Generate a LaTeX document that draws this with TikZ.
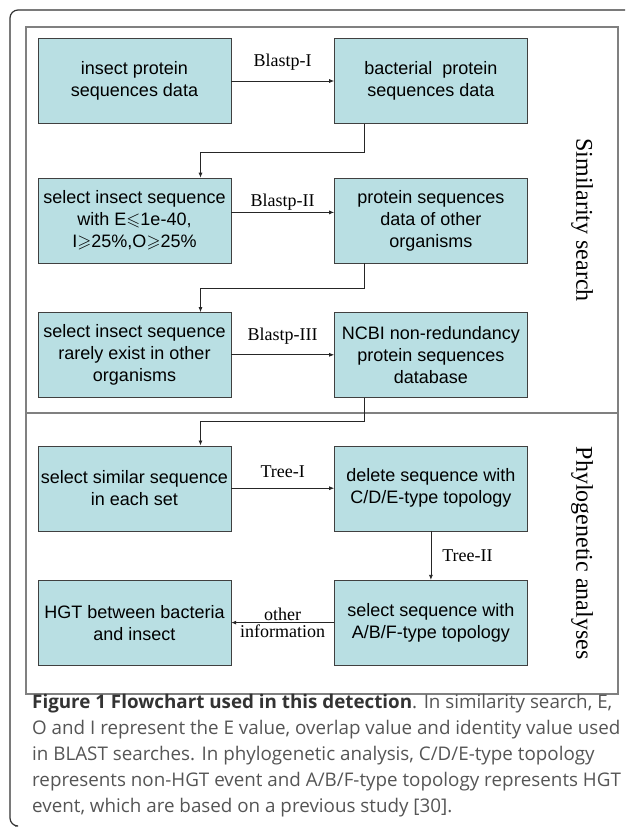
\documentclass[tikz,border=0pt]{standalone}
\usepackage{amssymb}
\usepackage{fontspec}
\setmainfont{Liberation Serif}
\setsansfont{Liberation Sans}
\newfontfamily\capfont{Open Sans}
\usetikzlibrary{positioning,arrows.meta}
\definecolor{boxfill}{RGB}{185,223,227}
\definecolor{capgray}{RGB}{85,85,85}

\begin{document}
\begin{tikzpicture}[x=1pt,y=-1pt,
  stage/.style={rectangle,draw=black!75,fill=boxfill,minimum width=193pt,minimum height=85pt,
    align=center,inner sep=2pt,font=\sffamily\fontsize{18}{22}\selectfont},
  flow/.style={draw=black!85,line width=0.8pt,-{Latex[length=5pt,width=4pt]}},
  lbl/.style={font=\fontsize{18}{20}\selectfont,inner sep=1pt},
  phase/.style={font=\fontsize{24}{26}\selectfont,rotate=-90}]
\useasboundingbox (0,0) rectangle (625,827);
% frames
\draw[black!80,line width=1.2pt,rounded corners=8pt] (625,10) -- (10,10) -- (10,826) -- (15,826);
\draw[black!50,line width=1.3pt] (26,27) rectangle (618,694);
\draw[black!50,line width=1.3pt] (26,413) -- (618,413);
% similarity search
\node[stage] (insect) at (134.5,81) {insect protein\\sequences data};
\node[stage,right=103pt of insect] (bact) {bacterial\ \ protein\\sequences data};
\node[stage,below=54pt of insect] (selE) {select insect sequence\\with E$\leqslant$1e-40,\\I$\geqslant$25\%,O$\geqslant$25\%};
\node[stage,right=103pt of selE] (other) {protein sequences\\data of other\\organisms};
\node[stage,below=49pt of selE] (rare) {select insect sequence\\rarely exist in other\\organisms};
\node[stage,right=103pt of rare] (ncbi) {NCBI non-redundancy\\protein sequences\\database};
% phylogenetic analyses
\node[stage,below=48pt of rare] (similar) {select similar sequence\\in each set};
\node[stage,right=103pt of similar] (cde) {delete sequence with\\C/D/E-type topology};
\node[stage,below=49pt of similar] (hgt) {HGT between bacteria\\and insect};
\node[stage,right=103pt of hgt] (abf) {select sequence with\\A/B/F-type topology};
\node[phase] (simlbl) at (582,220) {Similarity search};
\node[phase] (phylbl) at (582,553) {Phylogenetic analyses};
% connectors
\draw[flow] (insect) -- node[lbl,above=9pt] {Blastp-I} (bact);
\draw[flow] ([yshift=8pt]selE.east) -- node[lbl,above=1pt] {Blastp-II} ([yshift=8pt]other.west);
\draw[flow] (rare) -- node[lbl,above=9pt] {Blastp-III} (ncbi);
\draw[flow] (similar) -- node[lbl,above=9pt] {Tree-I} (cde);
\draw[flow] (cde) -- node[lbl,right=10pt] {Tree-II} (abf);
\draw[flow] (abf) -- node[lbl,above=1pt] {other} node[lbl,below=1pt] {information} (hgt);
\draw[flow] ([xshift=-67pt]bact.south) -- ++(0,29) -| ([xshift=66pt]selE.north);
\draw[flow] ([xshift=-67pt]other.south) -- ++(0,25) -| ([xshift=66pt]rare.north);
\draw[flow] ([xshift=-67pt]ncbi.south) -- ++(0,24) -| ([xshift=66pt]similar.north);
% caption
\node[anchor=north west,align=left,inner sep=0pt,text=capgray,font=\capfont\fontsize{18.8}{26}\selectfont] (caption) at (32,694)
  {{\bfseries\color{black!80}Figure 1 Flowchart used in this detection}. In similarity search, E,\\
   O and I represent the E value, overlap value and identity value used\\
   in BLAST searches. In phylogenetic analysis, C/D/E-type topology\\
   represents non-HGT event and A/B/F-type topology represents HGT\\
   event, which are based on a previous study [30].};
\end{tikzpicture}
\end{document}
